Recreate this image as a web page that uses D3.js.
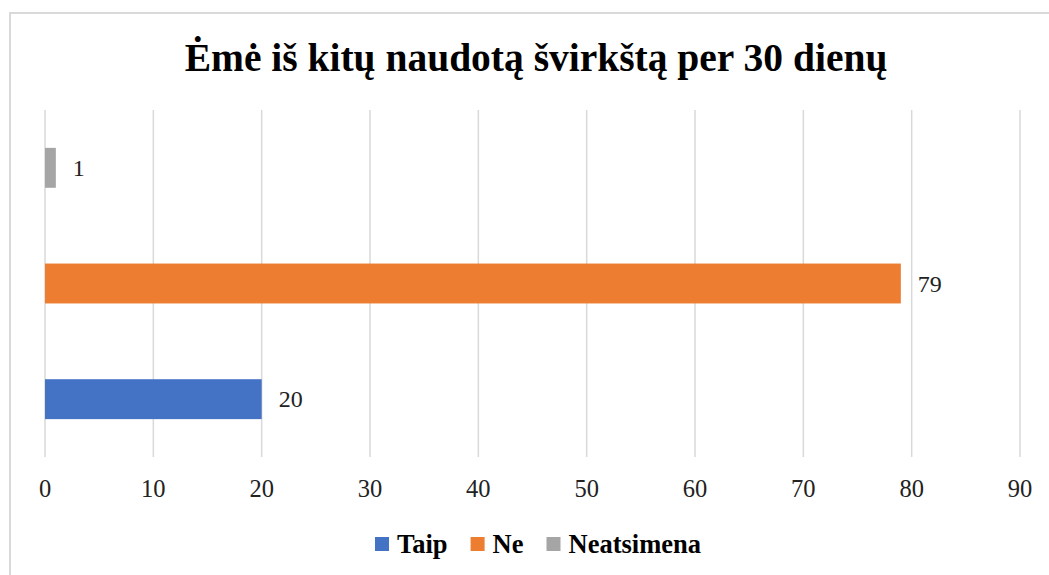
<!DOCTYPE html>
<html><head><meta charset="utf-8">
<script src="https://cdn.jsdelivr.net/npm/d3@7"></script>
<style>body{margin:0;background:#fff}svg{display:block}</style>
</head><body>
<svg id="c" width="1049" height="575"></svg>
<script>
const title = "Ėmė iš kitų naudotą švirkštą per 30 dienų";
const categories = ["Neatsimena", "Ne", "Taip"]; // top to bottom
const values = [1, 79, 20];
const colors = ["#A5A5A5", "#ED7D31", "#4472C4"];
const legendLabels = ["Taip", "Ne", "Neatsimena"];
const legendColors = ["#4472C4", "#ED7D31", "#A5A5A5"];
const ticks = [0,10,20,30,40,50,60,70,80,90];

const svg = d3.select("#c");
const font = "'Liberation Serif','Times New Roman',serif";

svg.append("rect").attr("x",10).attr("y",13).attr("width",1060).attr("height",600)
  .attr("fill","#fff").attr("stroke","#d9d9d9").attr("stroke-width",2);

svg.append("text").attr("x",536).attr("y",71).attr("text-anchor","middle")
  .attr("font-family",font).attr("font-weight","bold").attr("font-size",39.5)
  .attr("fill","#000").text(title);

const x = d3.scaleLinear().domain([0,90]).range([45,1020]);
const y = d3.scaleBand().domain(categories).range([110,457]).paddingInner(0.655).paddingOuter(0.3275);

svg.append("g").selectAll("line").data(ticks).join("line")
  .attr("x1",d=>x(d)).attr("x2",d=>x(d)).attr("y1",110).attr("y2",457)
  .attr("stroke","#d9d9d9").attr("stroke-width",1.5);

svg.append("g").selectAll("rect").data(categories).join("rect")
  .attr("x",x(0)).attr("y",d=>y(d)).attr("height",y.bandwidth())
  .attr("width",(d,i)=>x(values[i])-x(0)).attr("fill",(d,i)=>colors[i]);

svg.append("g").selectAll("text").data(categories).join("text")
  .attr("x",(d,i)=>x(values[i])+17).attr("y",d=>y(d)+y.bandwidth()/2+8)
  .attr("font-family",font).attr("font-size",24).attr("fill","#222")
  .text((d,i)=>values[i]);

svg.append("g").selectAll("text").data(ticks).join("text")
  .attr("x",d=>x(d)).attr("y",497).attr("text-anchor","middle")
  .attr("font-family",font).attr("font-size",24.5).attr("fill","#222").text(d=>d);

// legend
const lg = svg.append("g");
let lx = 375;
legendLabels.forEach((t,i)=>{
  lg.append("rect").attr("x",lx).attr("y",537).attr("width",14).attr("height",14).attr("fill",legendColors[i]);
  const tx = lg.append("text").attr("x",lx+22).attr("y",553).attr("font-family",font)
    .attr("font-weight","bold").attr("font-size",26.5).attr("fill","#000").text(t);
  const w = tx.node().getComputedTextLength();
  lx = lx + 22 + w + 23;
});
</script>
</body></html>
